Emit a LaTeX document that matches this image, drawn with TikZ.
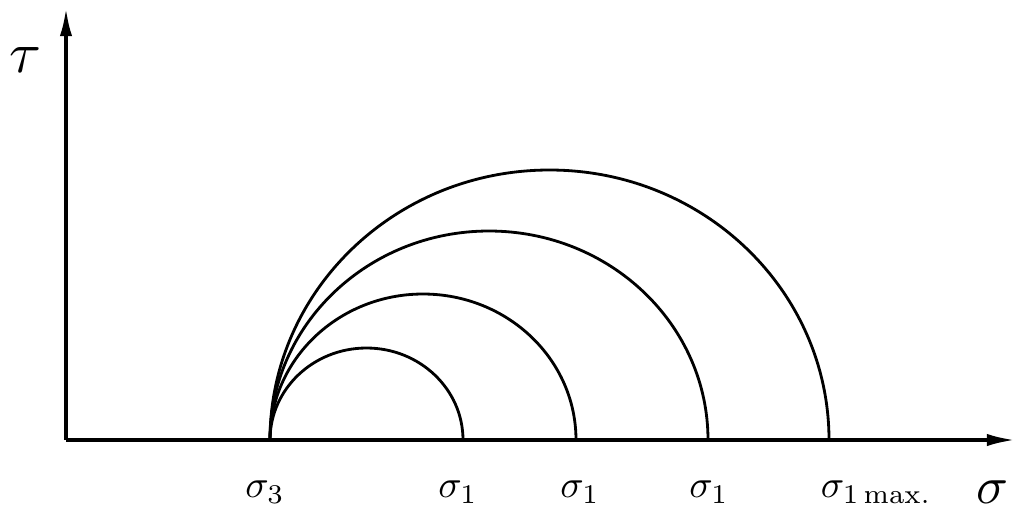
\documentclass[tikz,border=0pt]{standalone}
\usepackage{amsmath}
\usetikzlibrary{arrows.meta, positioning}
\tikzstyle{axis} = [line width=1.9pt, -{Latex[length=16pt, width=7pt]}]
\tikzstyle{circ} = [line width=1.6pt]
\tikzstyle{lab} = [scale=2.2, inner sep=0pt]
\tikzstyle{biglab} = [scale=3.0, inner sep=0pt]

\begin{document}
\begin{tikzpicture}[x=0.02cm, y=0.02cm]
    \useasboundingbox (0,0) rectangle (1016,-511);

    % Axes
    \coordinate (O) at (66,-440);
    \coordinate (xend) at (1015,-440);
    \coordinate (yend) at (66,-8);
    \draw[axis] (O) -- (xend);
    \draw[axis] (O) -- (yend);

    % Mohr circles
    \coordinate (s3) at (270,-440);
    \foreach \rx/\ry in {96.5/92, 153/146, 219/209, 279.5/270}
        \draw[circ] (s3) arc[start angle=180, end angle=0, x radius=\rx, y radius=\ry];

    % Labels
    \node[biglab, scale=1.1] (tau) at (25,-60) {$\tau$};
    \node[biglab] (sig) at (992,-492) {$\sigma$};
    \node[lab] (sig3) at (265,-492) {$\sigma_3$};
    \node[lab] (sigA) at (458,-492) {$\sigma_1$};
    \node[lab] (sigB) at (580,-492) {$\sigma_1$};
    \node[lab] (sigC) at (709,-492) {$\sigma_1$};
    \node[lab, anchor=west] (sigmax) at (820,-492) {$\sigma_{1\,\mathrm{max.}}$};
\end{tikzpicture}
\end{document}
